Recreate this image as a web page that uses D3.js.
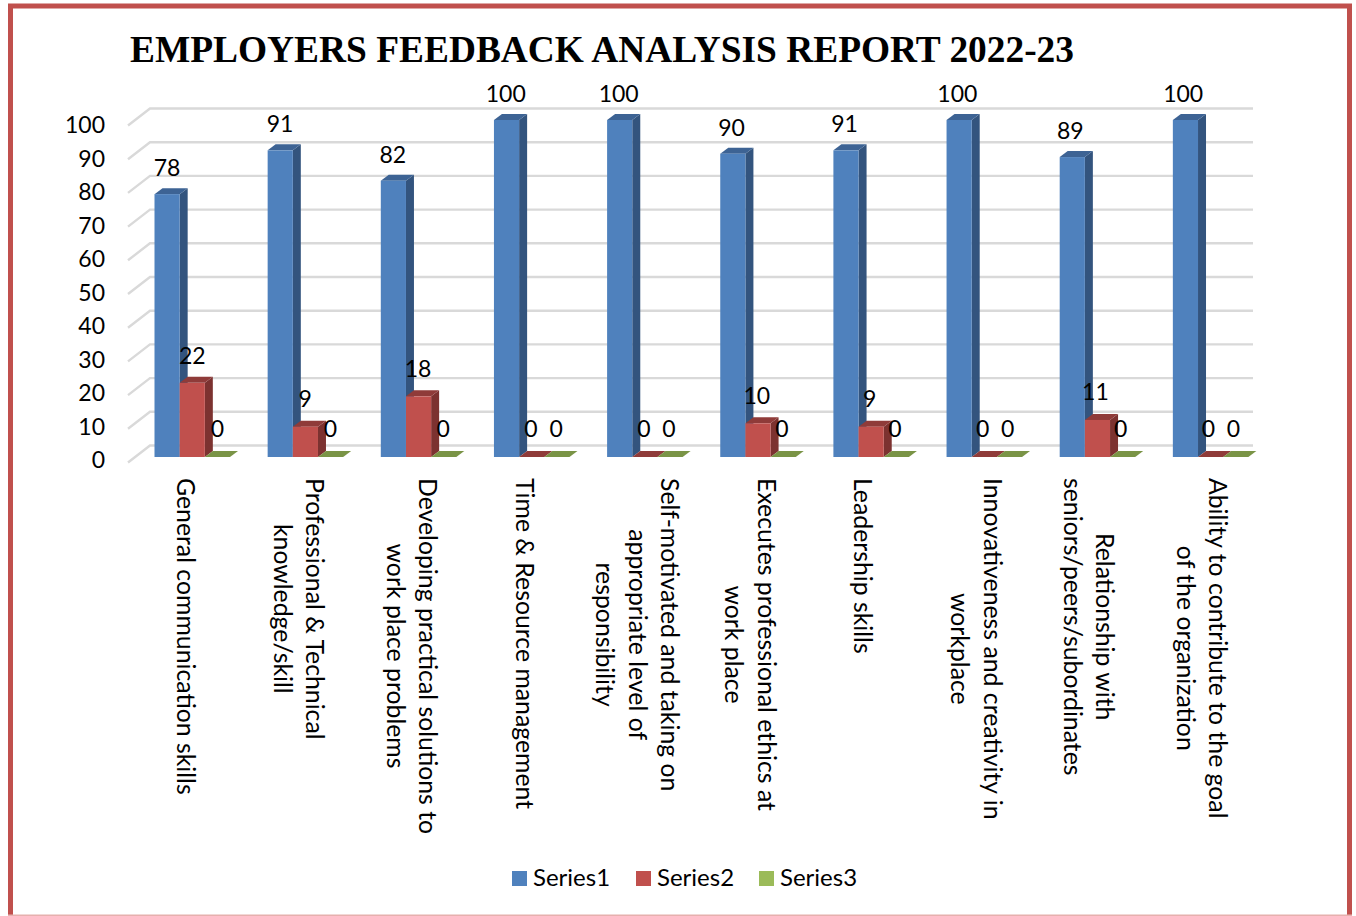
<!DOCTYPE html>
<html><head><meta charset="utf-8">
<script src="https://cdnjs.cloudflare.com/ajax/libs/d3/7.8.5/d3.min.js"></script>
<style>html,body{margin:0;padding:0;background:#fff;overflow:hidden}svg{display:block}</style>
</head><body><svg id="c" width="1356" height="916"></svg>
<script>
const titleText = "EMPLOYERS FEEDBACK ANALYSIS REPORT 2022-23";
const categories = [
  ["General communication skills"],
  ["Professional & Technical","knowledge/skill"],
  ["Developing practical solutions to","work place problems"],
  ["Time & Resource management"],
  ["Self-motivated and taking on","appropriate level of","responsibility"],
  ["Executes professional ethics at","work place"],
  ["Leadership skills"],
  ["Innovativeness and creativity in","workplace"],
  ["Relationship with","seniors/peers/subordinates"],
  ["Ability to contribute to the goal","of the organization"]
];
const seriesNames = ["Series1","Series2","Series3"];
const series1 = [78,91,82,100,100,90,91,100,89,100];
const series2 = [22,9,18,0,0,10,9,0,11,0];
const series3 = [0,0,0,0,0,0,0,0,0,0];
const yTicks = [0,10,20,30,40,50,60,70,80,90,100];
const faceColors = ["#4f81bd","#c0504d","#9bbb59"];
const sideColors = ["#33547e","#7c3230","#64793a"];
const topColors  = ["#3d6394","#8f3b39","#7a9446"];

const values = [series1,series2,series3];
const svg = d3.select("#c");
const sans = "Lato, Carlito, 'Noto Sans', sans-serif";

const y = d3.scaleLinear().domain([0,100]).range([457,120]);
const yTickPos = d3.scaleLinear().domain([0,100]).range([460,125]);
const yLabel = d3.scaleLinear().domain([0,100]).range([429,94]);
const x = d3.scaleBand().domain(d3.range(categories.length)).range([154.5,1286]);
const xText = d3.scaleBand().domain(d3.range(categories.length)).range([154.5,1283.5]);
const xs = d3.scaleBand().domain(d3.range(3)).range([0,75.5]);
const dx = 8, dy = -6;

// outer frame (open at the bottom)
svg.append("path").attr("d",d3.line()([[10.5,916],[10.5,6],[1349.5,6],[1349.5,916]]))
  .attr("fill","none").attr("stroke","#c0504d").attr("stroke-width",5);
svg.append("rect").attr("x",8).attr("y",914.5).attr("width",1344).attr("height",1.5).attr("fill","#e6b0ae");

// title
svg.append("text").attr("x",130).attr("y",62).attr("font-family","'Liberation Serif',serif")
  .attr("font-weight",700).attr("font-size",37.4).attr("fill","#000").text(titleText);

// gridlines
const grid = svg.append("g").attr("fill","none").attr("stroke","#d9d9d9").attr("stroke-width",2.4);
yTicks.forEach(t=>{
  const yb = y(t)-11.5;
  grid.append("path").attr("d",d3.line()([[128,yb+17],[150,yb],[1253,yb]]));
});

// y tick labels
svg.append("g").selectAll("text").data(yTicks).join("text")
  .attr("x",105).attr("y",d=>yTickPos(d)).attr("dy","0.36em").attr("text-anchor","end")
  .attr("font-family",sans).attr("font-size",23).attr("fill","#000").text(d=>d);

// bars
const bars = svg.append("g");
const labels = svg.append("g").attr("font-family",sans).attr("font-size",23).attr("fill","#000").attr("text-anchor","middle");
categories.forEach((c,i)=>{
  values.forEach((vals,s)=>{
    const v = vals[i];
    const x0 = x(i)+xs(s), x1 = x0+xs.bandwidth(), y0 = y(0), yt = y(v);
    const poly = pts=>d3.line()(pts)+"Z";
    bars.append("path").attr("fill",sideColors[s])
      .attr("d",poly([[x1,yt],[x1+dx,yt+dy],[x1+dx,y0+dy],[x1,y0]]));
    bars.append("path").attr("fill",topColors[s])
      .attr("d",poly([[x0,yt],[x0+dx,yt+dy],[x1+dx,yt+dy],[x1,yt]]));
    bars.append("rect").attr("x",x0).attr("y",yt).attr("width",xs.bandwidth()).attr("height",y0-yt).attr("fill",faceColors[s]);
    labels.append("text").attr("x",xText(i)+xs(s)+xs.bandwidth()/2).attr("y",yLabel(v)).attr("dy","0.36em").text(v);
  });
});

// category labels (rotated, lines centred on the longest)
const catG = svg.append("g").attr("font-family",sans).attr("font-size",24.8).attr("fill","#000");
categories.forEach((lines,i)=>{
  const g = catG.append("g");
  const ts = lines.map(l=>g.append("text").attr("text-anchor","middle").text(l));
  const maxLen = d3.max(ts,t=>t.node().getComputedTextLength());
  const cy = 478+maxLen/2;
  const cx = xText(i)+30;
  ts.forEach((t,k)=>{
    const lx = cx+32.5*((lines.length-1)/2-k);
    t.attr("transform",`translate(${lx},${cy}) rotate(90)`).attr("dy","0.3em");
  });
});

// legend
const legendX = [512,636,759];
const lg = svg.append("g");
seriesNames.forEach((n,i)=>{
  lg.append("rect").attr("x",legendX[i]).attr("y",871).attr("width",15).attr("height",15).attr("fill",faceColors[i]);
  lg.append("text").attr("x",legendX[i]+21).attr("y",886).attr("font-family",sans).attr("font-size",24).attr("fill","#000").text(n);
});
</script></body></html>
